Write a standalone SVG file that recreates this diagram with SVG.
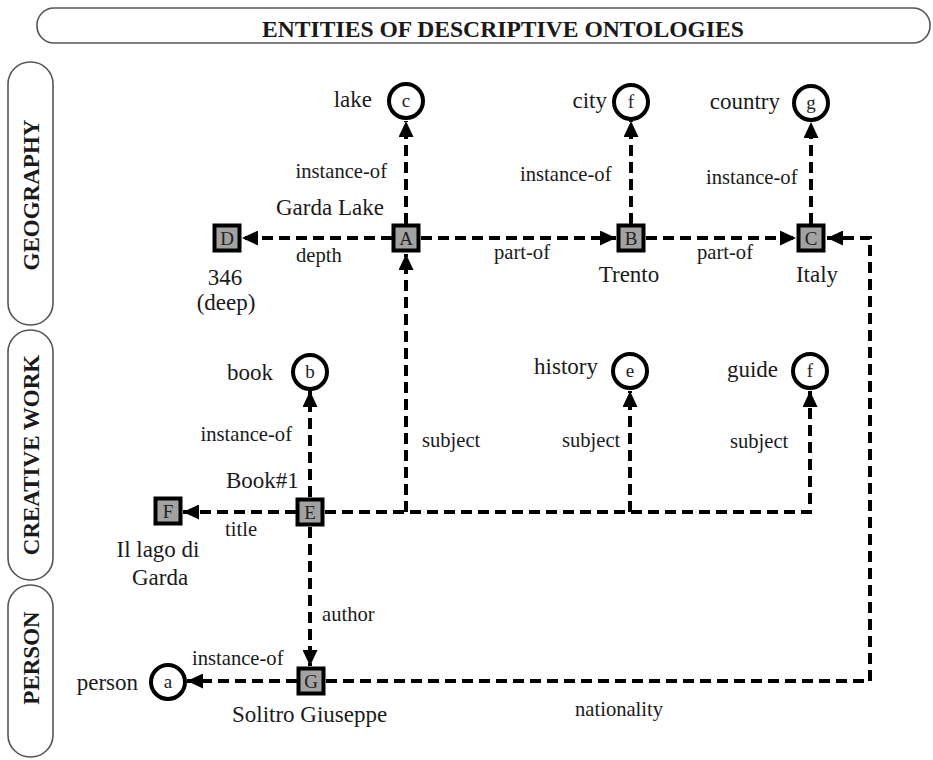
<svg xmlns="http://www.w3.org/2000/svg" width="933" height="760" viewBox="0 0 933 760">
<defs>
<style>
.band{fill:#fff;stroke:#555;stroke-width:1.6}
.bt{font-family:"Liberation Serif","Times New Roman",serif;font-weight:bold;font-size:23px;fill:#1a1a1a;text-anchor:middle}
.sq{fill:#a2a2a2;stroke:#000;stroke-width:4}
.ci{fill:#fff;stroke:#000;stroke-width:4}
.in{font-family:"Liberation Serif","Times New Roman",serif;font-size:19px;fill:#222;text-anchor:middle}
.nl{font-family:"Liberation Serif","Times New Roman",serif;font-size:23px;fill:#1a1a1a}
.el{font-family:"Liberation Serif","Times New Roman",serif;font-size:20.6px;fill:#1a1a1a}
.e{fill:none;stroke:#000;stroke-width:4;stroke-dasharray:11 6}
.a{marker-end:url(#ah)}
.m{text-anchor:middle}
.r{text-anchor:end}
</style>
<marker id="ah" markerUnits="userSpaceOnUse" markerWidth="16" markerHeight="15" refX="16" refY="7.5" orient="auto">
<path d="M0,0 L16,7.5 L0,15 z" fill="#000"/>
</marker>
</defs>
<g id="title">
<rect class="band" x="37" y="8" width="893" height="35" rx="17"/>
<text class="bt" x="503" y="37" style="font-size:23.6px">ENTITIES OF DESCRIPTIVE ONTOLOGIES</text>
</g>
<g id="band-geography">
<rect class="band" x="8" y="62" width="45" height="263" rx="22"/>
<text class="bt" transform="translate(38.5,195) rotate(-90)">GEOGRAPHY</text>
</g>
<g id="band-creative">
<rect class="band" x="8" y="330" width="45" height="250" rx="22"/>
<text class="bt" transform="translate(38.5,455) rotate(-90)">CREATIVE WORK</text>
</g>
<g id="band-person">
<rect class="band" x="8" y="585" width="45" height="172" rx="22"/>
<text class="bt" transform="translate(38.5,658) rotate(-90)">PERSON</text>
</g>
<g id="connectors">
<path class="e a" d="M406,224 V121"/>
<path class="e a" d="M631,224 V121"/>
<path class="e a" d="M811,224 V122"/>
<path class="e a" d="M392,238 H242"/>
<path class="e a" d="M421,238 H616"/>
<path class="e a" d="M646,238 H796"/>
<path class="e a" d="M326,681 H870 V238 H827"/>
<path class="e a" d="M325,512 H810 V391"/>
<path class="e a" d="M406,512 V254"/>
<path class="e a" d="M630,512 V391"/>
<path class="e a" d="M310,497 V391"/>
<path class="e a" d="M296,512 H183"/>
<path class="e a" d="M310,527 V666"/>
<path class="e a" d="M297,681 H187"/>
</g>
<g id="edge-labels">
<text class="el r" x="387" y="178">instance-of</text>
<text class="el" x="520" y="181">instance-of</text>
<text class="el" x="706" y="184">instance-of</text>
<text class="el" x="296" y="262">depth</text>
<text class="el m" x="522" y="259">part-of</text>
<text class="el" x="697" y="259">part-of</text>
<text class="el r" x="292" y="441">instance-of</text>
<text class="el" x="422" y="447">subject</text>
<text class="el" x="562" y="447">subject</text>
<text class="el" x="730" y="448">subject</text>
<text class="el" x="225" y="536">title</text>
<text class="el" x="322" y="621">author</text>
<text class="el" x="192" y="665">instance-of</text>
<text class="el" x="575" y="716">nationality</text>
</g>
<g id="node-c">
<circle class="ci" cx="406" cy="101" r="17"/>
<text class="in" x="406" y="107">c</text>
<text class="nl r" x="372" y="107">lake</text>
</g>
<g id="node-f-city">
<circle class="ci" cx="631" cy="102" r="17"/>
<text class="in" x="631" y="108">f</text>
<text class="nl r" x="607" y="108">city</text>
</g>
<g id="node-g">
<circle class="ci" cx="811" cy="103" r="17"/>
<text class="in" x="811" y="109">g</text>
<text class="nl r" x="780" y="109">country</text>
</g>
<g id="node-A">
<rect class="sq" x="393.5" y="225.5" width="25" height="25"/>
<text class="in" x="406" y="245">A</text>
<text class="nl" x="276" y="215">Garda Lake</text>
</g>
<g id="node-B">
<rect class="sq" x="618.5" y="225.5" width="25" height="25"/>
<text class="in" x="631" y="245">B</text>
<text class="nl m" x="629" y="282">Trento</text>
</g>
<g id="node-C">
<rect class="sq" x="798.5" y="225.5" width="25" height="25"/>
<text class="in" x="811" y="245">C</text>
<text class="nl m" x="817" y="282">Italy</text>
</g>
<g id="node-D">
<rect class="sq" x="214.5" y="225.5" width="25" height="25"/>
<text class="in" x="227" y="245">D</text>
<text class="nl m" x="225" y="285">346</text>
<text class="nl m" x="226" y="310">(deep)</text>
</g>
<g id="node-b">
<circle class="ci" cx="310" cy="372" r="17"/>
<text class="in" x="310" y="378">b</text>
<text class="nl r" x="273" y="380">book</text>
</g>
<g id="node-e">
<circle class="ci" cx="630" cy="371" r="17"/>
<text class="in" x="630" y="377">e</text>
<text class="nl r" x="598" y="374">history</text>
</g>
<g id="node-f-guide">
<circle class="ci" cx="810" cy="371" r="17"/>
<text class="in" x="810" y="377">f</text>
<text class="nl r" x="778" y="377">guide</text>
</g>
<g id="node-E">
<rect class="sq" x="297.5" y="499.5" width="25" height="25"/>
<text class="in" x="310" y="519">E</text>
<text class="nl" x="226" y="488">Book#1</text>
</g>
<g id="node-F">
<rect class="sq" x="155.5" y="498.5" width="25" height="25"/>
<text class="in" x="168" y="518">F</text>
<text class="nl m" x="158" y="557">Il lago di</text>
<text class="nl m" x="160" y="585">Garda</text>
</g>
<g id="node-G">
<rect class="sq" x="298.5" y="668.5" width="25" height="25"/>
<text class="in" x="311" y="688">G</text>
<text class="nl" x="232" y="722">Solitro Giuseppe</text>
</g>
<g id="node-a">
<circle class="ci" cx="168" cy="682" r="17"/>
<text class="in" x="168" y="688">a</text>
<text class="nl r" x="138" y="690">person</text>
</g>
</svg>
